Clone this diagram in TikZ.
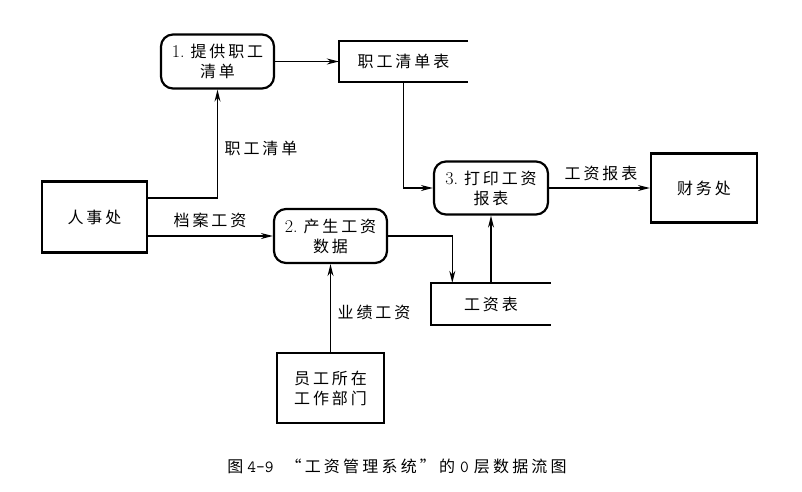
\documentclass[tikz,border=0pt]{standalone}
\usepackage{fontspec}
\newfontfamily\cjk{Noto Sans CJK SC}[LetterSpace=18]
\newfontfamily\cjkcap{Noto Sans CJK SC}[LetterSpace=20]
\usetikzlibrary{arrows.meta}

\begin{document}
\begin{tikzpicture}[x=1pt,y=-1pt,
	every node/.style = {font=\cjk\fontsize{16}{20}\selectfont},
	proc/.style = {draw, rounded corners=12pt, line width=2.2pt, minimum width=113pt, minimum height=54pt, align=center, inner sep=0pt},
	ext/.style = {draw, line width=2.2pt, align=center, inner sep=0pt},
	store/.style = {minimum height=41pt, inner sep=0pt},
	flow/.style = {line width=1.4pt, -{Stealth[length=12pt,width=6pt]}},
	lbl/.style = {inner sep=0pt}]
	\useasboundingbox (0,0) rectangle (802,491);
	% processes
	\node[proc] (p1) at (217.5,61.5) {{\rmfamily\fontsize{18}{20}\selectfont 1.\hspace{6pt}}提供职工\\清单};
	\node[proc] (p2) at (330.5,236) {{\rmfamily\fontsize{18}{20}\selectfont 2.\hspace{6pt}}产生工资\\数据};
	\node[proc, minimum width=114pt, minimum height=53pt] (p3) at (491,188) {{\rmfamily\fontsize{18}{20}\selectfont 3.\hspace{6pt}}打印工资\\报表};
	% outside entities
	\node[ext, minimum width=105pt, minimum height=71pt] (rsc) at (94.5,217) {人事处};
	\node[ext, minimum width=106pt, minimum height=69pt] (cwc) at (704,188) {财务处};
	\node[ext, minimum width=107pt, minimum height=70pt] (ygbm) at (330.5,388) {员工所在\\工作部门};
	% data stores
	\node[store, minimum width=129pt] (zgqd) at (403.5,61.5) {职工清单表};
	\node[store, minimum width=119pt, minimum height=42pt] (gzb) at (491,304) {工资表};
	\foreach \s in {zgqd,gzb}
		\draw[line width=2.2pt] (\s.north east) -- (\s.north west) -- (\s.south west) -- (\s.south east);
	% flows
	\draw[flow] ([yshift=19pt]rsc.east) -| (p1.south);
	\draw[flow] (p2.west -| rsc.east) -- (p2.west);
	\draw[flow] (p1.east) -- (zgqd.west);
	\draw[flow] (zgqd.south) |- (p3.west);
	\draw[flow] (p2.east) -| ([xshift=21pt]gzb.north west);
	\draw[flow] (gzb.north) -- (p3.south);
	\draw[flow] (p3.east) -- (cwc.west);
	\draw[flow] (ygbm.north) -- (p2.south);
	% labels
	\node[lbl] (l1) at (261,148) {职工清单};
	\node[lbl] (l2) at (210,220) {档案工资};
	\node[lbl] (l3) at (601,173) {工资报表};
	\node[lbl] (l4) at (374,312) {业绩工资};
	\node[lbl, font=\cjkcap\fontsize{16}{18}\selectfont] (cap) at (397,466) {图\hspace{4pt}{\ttfamily\fontsize{17}{18}\selectfont 4-9}\hspace{12pt}“工资管理系统”的\hspace{5pt}{\ttfamily\fontsize{17}{18}\selectfont 0}\hspace{5pt}层数据流图};
\end{tikzpicture}
\end{document}
